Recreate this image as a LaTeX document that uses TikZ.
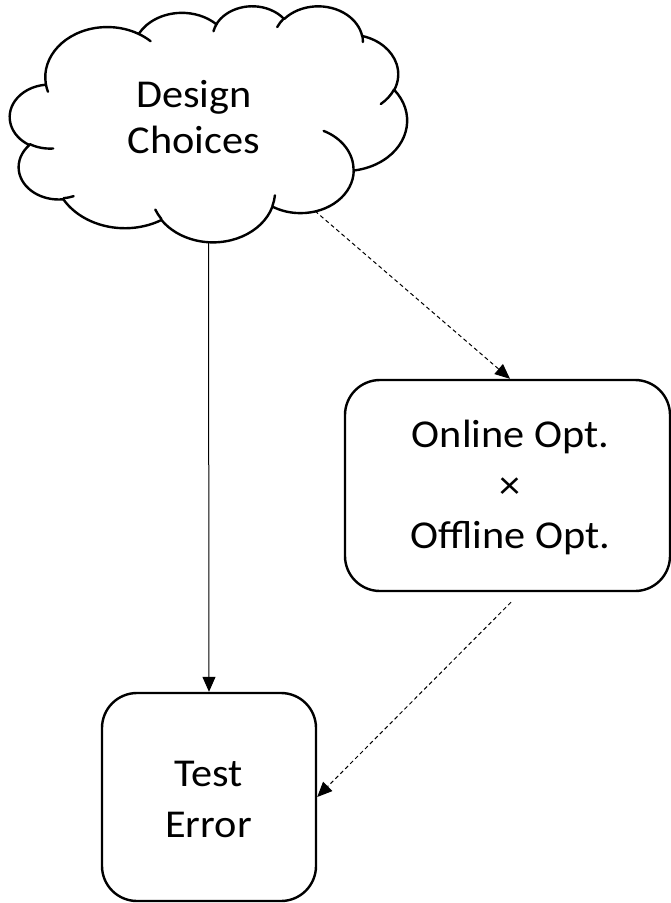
\documentclass[tikz,border=0pt]{standalone}
\usepackage{fontspec}
\setmainfont{Carlito}[FakeStretch=1.07]
\usetikzlibrary{arrows.meta}

\tikzset{
  % elliptical arc whose start angle and sweep are given as visual angles
  oarc/.style n args={4}{insert path={%
    \pgfextra{%
      \pgfmathparse{atan2((#1)*sin(#3),(#2)*cos(#3))}\xdef\oarcS{\pgfmathresult}%
      \pgfmathparse{atan2((#1)*sin((#3)+(#4)),(#2)*cos((#3)+(#4)))}\xdef\oarcE{\pgfmathresult}%
      \pgfmathparse{mod(\oarcE-\oarcS+720,360)}\xdef\oarcD{\pgfmathresult}%
    }%
    arc[start angle=\oarcS, delta angle=\oarcD, x radius=#1, y radius=#2]}},
  cloudline/.style={line width=2.4pt, line join=round, line cap=round},
  box/.style={draw, line width=2.4pt, rounded corners=35pt, fill=white, inner sep=0pt},
  lbl/.style={align=center, inner sep=0pt},
  big/.style={font=\fontsize{39.5}{50.5}\selectfont},
  cloudfont/.style={font=\fontsize{39.5}{46}\selectfont},
  solidarrow/.style={line width=1pt, -{Triangle[length=15pt,width=13pt]}},
  dasharrow/.style={line width=1pt, dash pattern=on 4pt off 3pt, -{Triangle[length=15pt,width=13pt]}}
}

\begin{document}
\begin{tikzpicture}[x=1pt, y=-1pt]
\useasboundingbox (0,0) rectangle (671,903);
\fill[white] (0,0) rectangle (671,903);

% cloud outline, drawn in a 432 x 432 frame
\begin{scope}[shift={(10,5.5)}, xscale=397/432, yscale=236/432]
  \draw[cloudline, fill=white] (39.00,143.70)
    [oarc={67.53}{91.90}{-190.48748}{123.78053}]
    [oarc={53.33}{72.67}{-144.10238}{89.94523}]
    [oarc={43.65}{59.45}{-145.80792}{99.72302}]
    [oarc={48.57}{65.95}{-130.98607}{117.24173}]
    [oarc={53.33}{72.73}{-78.70888}{109.02692}]
    [oarc={67.75}{92.20}{-46.26725}{130.26900}]
    [oarc={57.85}{78.67}{0.62502}{114.03333}]
    [oarc={67.52}{92.15}{22.45160}{115.17255}]
    [oarc={77.20}{105.43}{66.24263}{75.71102}]
    [oarc={43.60}{59.18}{-274.94208}{146.73557}]
    [oarc={43.45}{59.45}{-246.82850}{152.51885}]
    -- cycle;
  % inner strokes of the bumps
  \draw[cloudline]
    (46.93,261.77) [oarc={43.45}{59.45}{86.7420}{26.4295}]
    (69.28,348.99) [oarc={43.60}{59.18}{73.6105}{11.4475}]
    (164.78,390.90) [oarc={67.52}{92.15}{137.6242}{14.0811}]
    (288.27,347.51) [oarc={67.52}{92.15}{6.4533}{15.9984}]
    (341.29,229.54) [oarc={57.85}{78.67}{-70.2924}{70.9174}]
    (417.98,153.54) [oarc={53.33}{72.73}{30.3180}{27.7515}]
    (383.24,54.26) [oarc={48.57}{65.95}{-13.7443}{14.8589}]
    (290.78,39.52) [oarc={48.57}{65.95}{-149.1815}{18.1954}]
    (221.41,47.20) [oarc={43.65}{59.45}{-163.4943}{17.6864}]
    (140.00,51.92) [oarc={67.53}{91.90}{-66.7070}{12.3194}]
    (41.27,157.89) [oarc={67.53}{91.90}{157.6544}{11.8582}];
\end{scope}

\coordinate (cloud-s) at (208.5,241.5);
\coordinate (cloud-se) at (315,211);

% the base anchor of a multi-line label sits on its last line
\node[lbl, cloudfont, anchor=base] (design) at (194,153) {Design\\Choices};

\node[box, minimum width=325pt, minimum height=211pt] (opt) at (507.5,485.5) {};
\node[lbl, big, anchor=base] (optlbl) at (510.5,548.5) {Online Opt.\\×\\Offline Opt.};

\node[box, minimum width=214pt, minimum height=208pt] (test) at (209,797) {};
\node[lbl, big, anchor=base] (testlbl) at (208.5,837.3) {Test\\Error};

\draw[solidarrow] (cloud-s) -- (test.north);
\draw[dasharrow] (cloud-se) -- ([xshift=2.5pt]opt.north);
\draw[dasharrow] ([shift={(3.5pt,-10pt)}]opt.south) -- (test.east);
\end{tikzpicture}
\end{document}
